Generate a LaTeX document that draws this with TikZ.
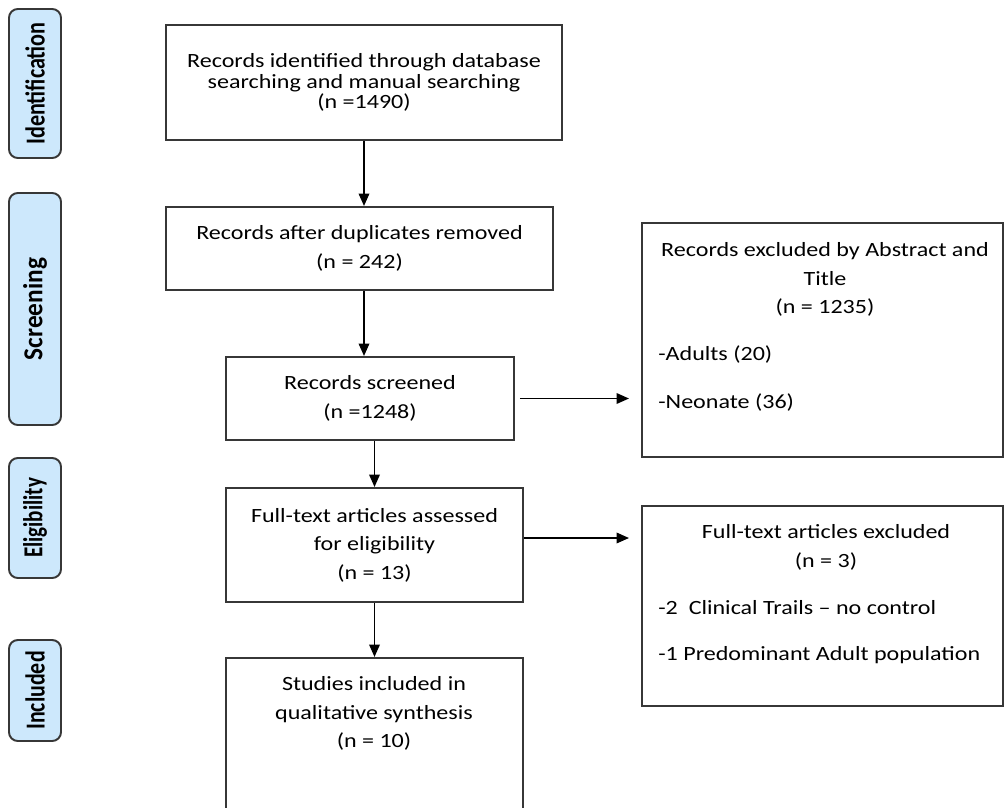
\documentclass[tikz,border=0pt]{standalone}
\usepackage{fontspec}
\setmainfont{Carlito}[FakeStretch=1.19]
\newfontfamily\sidefont{Carlito}
\usepackage{graphicx}
\usetikzlibrary{positioning,arrows.meta,calc}
\definecolor{sidefill}{RGB}{205,232,252}
\definecolor{framecol}{RGB}{55,55,55}
\newcommand{\sidetext}[2]{\rotatebox{90}{\scalebox{#1}[1.3]{\sidefont\bfseries\fontsize{12}{14}\selectfont #2}}}

\begin{document}
\begin{tikzpicture}[
  every node/.style={font=\fontsize{11.5}{16.2}\selectfont},
  %% phase tab on the left
  side/.style={
    draw=framecol, fill=sidefill, line width=1.1pt,
    rounded corners=5pt, minimum width=1.04cm, inner sep=0pt
  },
  %% flow box
  box/.style={draw=framecol, line width=1.1pt, align=center, inner sep=0pt},
  %% left-aligned reason line in an exclusion box
  item/.style={anchor=west, inner sep=0pt},
  arr/.style={-{Triangle[length=0.25cm,width=0.21cm]}, line width=1.1pt, black},
]
\useasboundingbox (0,0) rectangle (20.1,-16.14);

%%── Phase tabs ──────────────────────────────────────────────────────────────
\node[side, minimum height=2.98cm] (idf) at (0.70,-1.67)  {\sidetext{1.05}{Identification}};
\node[side, minimum height=4.64cm] (scr) at (0.70,-6.18)  {\sidetext{1.2}{Screening}};
\node[side, minimum height=2.40cm] (elg) at (0.70,-10.36) {\sidetext{1.0}{Eligibility}};
\node[side, minimum height=2.02cm] (inc) at (0.70,-13.81) {\sidetext{1.04}{Included}};

%%── Main flow ───────────────────────────────────────────────────────────────
\node[box, minimum width=7.92cm, minimum height=2.30cm,
      font=\fontsize{11.5}{11.6}\selectfont] (rec) at (7.28,-1.65)
  {Records identified through database\\
   searching and manual searching\\
   (n =1490)};

\node[box, minimum width=7.74cm, minimum height=1.66cm] (dup) at (7.19,-4.97)
  {Records after duplicates removed\\(n = 242)};

\node[box, minimum width=5.76cm, minimum height=1.66cm] (scrn) at (7.40,-7.97)
  {Records screened\\(n =1248)};

\node[box, minimum width=5.94cm, minimum height=2.28cm] (full) at (7.49,-10.90)
  {Full-text articles assessed\\for eligibility\\(n = 13)};

\node[box, minimum width=5.94cm, minimum height=4cm, anchor=north] (incl) at (7.49,-13.14) {};
\node[align=center] (inclt) at (7.48,-14.27)
  {Studies included in\\qualitative synthesis\\(n = 10)};

%%── Exclusions ──────────────────────────────────────────────────────────────
\node[box, minimum width=7.22cm, minimum height=4.68cm] (exab) at (16.45,-6.80) {};
\node[align=center] (exabt) at (16.5,-5.59)
  {Records excluded by Abstract and\\Title\\(n = 1235)};
\node[item] (exab1) at (13.16,-7.10) {-Adults (20)};
\node[item] (exab2) at (13.16,-8.06) {-Neonate (36)};

\node[box, minimum width=7.22cm, minimum height=4.00cm] (exft) at (16.45,-12.12) {};
\node[align=center] (exftt) at (16.52,-10.95)
  {Full-text articles excluded\\(n = 3)};
\node[item] (exft1) at (13.16,-12.16) {-2\ \ Clinical Trails -- no control};
\node[item] (exft2) at (13.16,-13.10) {-1 Predominant Adult population};

%%── Arrows ──────────────────────────────────────────────────────────────────
\draw[arr] (rec.south) -- (rec.south |- dup.north);
\draw[arr] (dup.south -| rec.south) -- (scrn.north -| rec.south);
\draw[arr] (scrn.south -| full.north) -- (full.north);
\draw[arr] (full.south) -- (incl.north);
\draw[arr] ([xshift=0.1cm]scrn.east) -- ($(scrn.east -| exab.west)+(-0.24,0)$);
\draw[arr] ($(full.east)+(0,0.14)$) -- ($(full.east -| exft.west)+(-0.24,0.14)$);

\end{tikzpicture}
\end{document}
